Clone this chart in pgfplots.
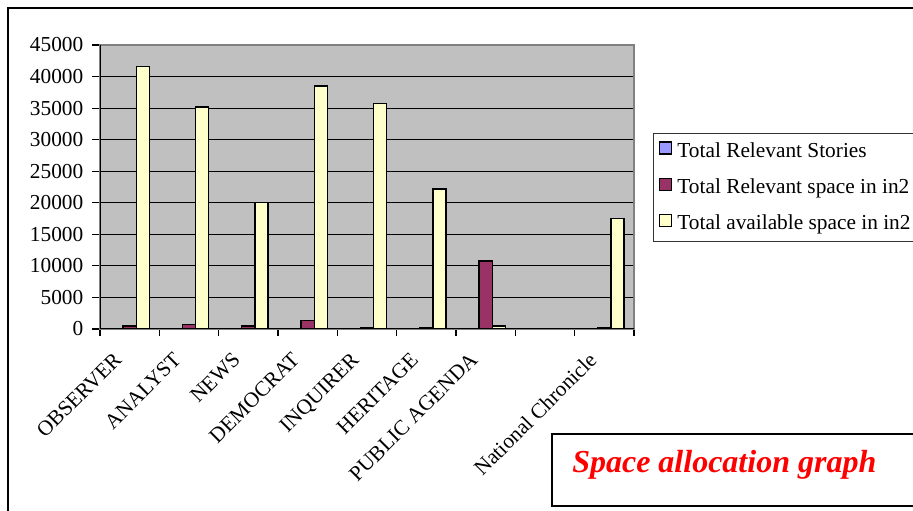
\documentclass[border=0pt]{standalone}
\usepackage{fontspec}
\setmainfont{Liberation Serif}
\usepackage{pgfplots}
\pgfplotsset{compat=1.18}
\definecolor{plotgray}{HTML}{C0C0C0}
\definecolor{storyblue}{HTML}{9999FF}
\definecolor{spacemaroon}{HTML}{993366}
\definecolor{availyellow}{HTML}{FFFFCC}

\begin{document}
\begin{tikzpicture}
\path[use as bounding box] (0,0) rectangle (684.75pt,382.5pt);
\draw[line width=1pt] (6pt,-5pt) -- (6pt,376.5pt) -- (690pt,376.5pt);
\begin{axis}[
    at={(75pt,135.75pt)}, anchor=south west,
    width=400.5pt, height=213pt, scale only axis,
    ybar=0pt, bar width=0.222,
    xmin=-0.5, xmax=8.5, ymin=0, ymax=45000,
    xtick={0,...,8},
    xticklabels={OBSERVER,ANALYST,NEWS,DEMOCRAT,INQUIRER,HERITAGE,PUBLIC AGENDA,,National Chronicle},
    minor xtick={-0.5,0.5,...,8.5},
    ytick={0,5000,...,45000},
    scaled y ticks=false,
    /pgf/number format/assume math mode=true,
    yticklabel style={/pgf/number format/1000 sep={}, xshift=-3pt},
    tick label style={font=\fontsize{16}{19}\selectfont},
    xticklabel style={rotate=45, anchor=north east, xshift=-13pt, yshift=5pt},
    tick pos=left,
    tick align=outside,
    major x tick style={draw=none},
    tick style={black, line width=0.8pt},
    major tick length=6pt, minor tick length=5pt,
    ymajorgrids, grid style={black, line width=0.8pt},
    axis background/.style={fill=plotgray},
    axis line style={draw=gray, line width=1pt},
    legend style={at={(1.0356,0.690)}, anchor=north west,
        font=\fontsize{16}{19}\selectfont, draw=black!80, line width=0.8pt,
        row sep=10.5pt, inner xsep=4pt, inner ysep=5pt},
    legend cell align=left,
    legend image code/.code={\draw[#1, line width=0.8pt] (0pt,-2pt) rectangle (9pt,7pt); \path (11pt,0pt);},
]
\addplot[fill=storyblue, draw=black, line width=1pt] coordinates {
(0,30)(1,40)(2,25)(3,60)(4,15)(5,12)(6,90)(8,10)};
\addplot[fill=spacemaroon, draw=black, line width=1pt] coordinates {
(0,500)(1,750)(2,500)(3,1300)(4,150)(5,150)(6,10800)(8,150)};
\addplot[fill=availyellow, draw=black, line width=1pt] coordinates {
(0,41600)(1,35200)(2,20000)(3,38500)(4,35700)(5,22200)(6,500)(8,17500)};
\legend{Total Relevant Stories,Total Relevant space in in2,Total available space in in2}
\draw[black, line width=1pt] (rel axis cs:0,1) -- (rel axis cs:0,0) -- (rel axis cs:1,0);
\end{axis}
\draw[line width=1.2pt] (414pt,3pt) rectangle (690pt,57pt);
\node[anchor=base west, inner sep=0pt, text=red, font=\fontsize{24}{28}\selectfont\bfseries\itshape]
    at (429pt,27.75pt) {Space allocation graph};
\end{tikzpicture}
\end{document}
